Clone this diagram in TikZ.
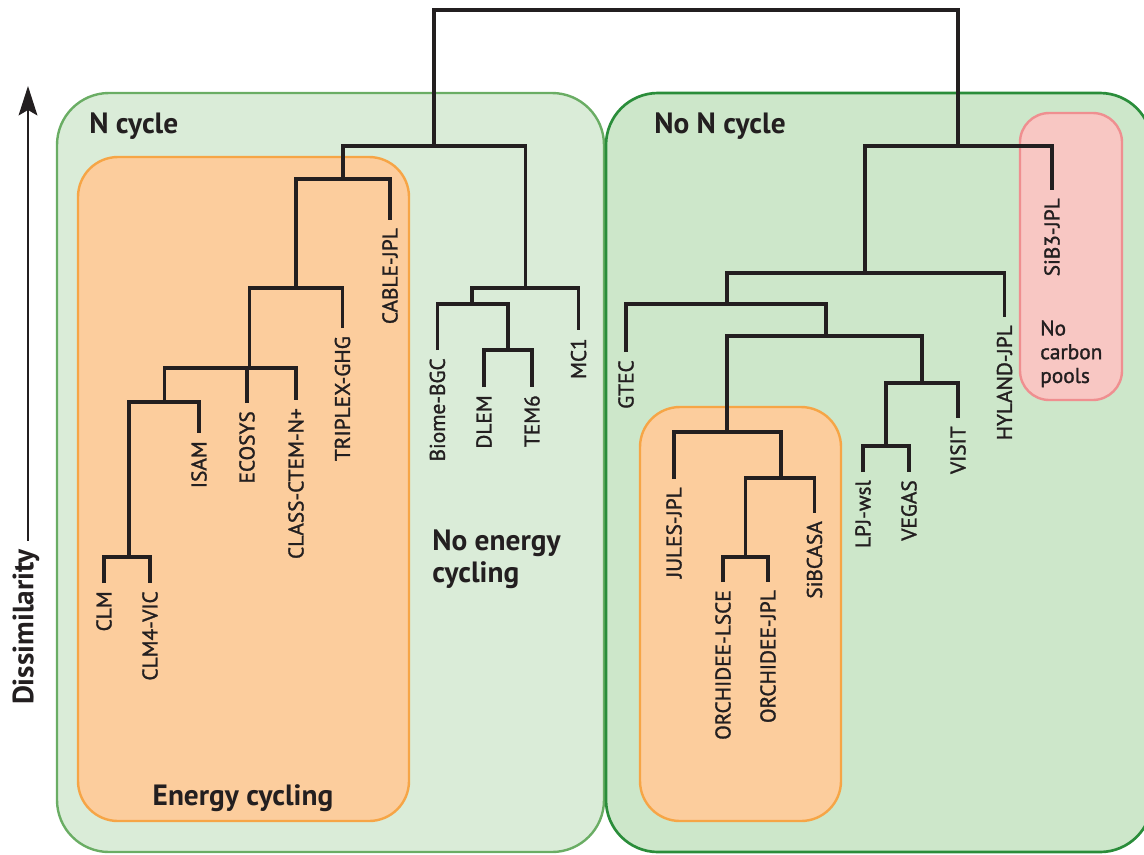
\documentclass[tikz,border=0pt]{standalone}
\usepackage{fontspec}
\setmainfont{PT Sans}
\newfontfamily\leaffont{PT Sans}[FakeBold=1.4]
\usetikzlibrary{arrows.meta}
\definecolor{ink}{HTML}{231F20}
\definecolor{ncfill}{HTML}{DAECD8}
\definecolor{ncline}{HTML}{6AAD64}
\definecolor{nncfill}{HTML}{CDE7CA}
\definecolor{nncline}{HTML}{2A8D3A}
\definecolor{ecfill}{HTML}{FCCD9D}
\definecolor{ecline}{HTML}{F6A546}
\definecolor{pkfill}{HTML}{F8C7C3}
\definecolor{pkline}{HTML}{EF8F90}
\begin{document}
\begin{tikzpicture}[x=0.75pt,y=-0.75pt,
  branch/.style={draw=ink, line width=2.7pt, line join=miter},
  leaf/.style={rotate=90, anchor=east, inner sep=0pt, text=ink, font=\leaffont\fontsize{16}{18}\selectfont},
  grp/.style={inner sep=0pt, text=ink, font=\bfseries\fontsize{22}{24}\selectfont},
  ncbox/.style={fill=ncfill, draw=ncline, line width=1.8pt, rounded corners=39pt},
  nncbox/.style={fill=nncfill, draw=nncline, line width=2pt, rounded corners=39pt},
  ecbox/.style={fill=ecfill, draw=ecline, line width=1.8pt, rounded corners=30pt},
  pkbox/.style={fill=pkfill, draw=pkline, line width=1.8pt, rounded corners=22pt},
]
\useasboundingbox (0,0) rectangle (1144,854);
\clip (0,0) rectangle (1144,854);
% group boxes
\path[ncbox] (57,93) rectangle (604,852);
\path[nncbox] (606,93) rectangle (1152,852);
\path[ecbox] (78,157) rectangle (409,821);
\path[ecbox] (640,407) rectangle (841,821);
\path[pkbox] (1020,113) rectangle (1122,400);
% group labels
\node[grp, anchor=base west] (lab-nc) at (89,133) {N cycle};
\node[grp, anchor=base west] (lab-nnc) at (654,133) {No N cycle};
\node[grp, anchor=base] (lab-ec) at (243,805) {Energy cycling};
\node[grp, anchor=north west, align=left] (lab-nec) at (432,530) {No energy\\cycling};
\node[anchor=north west, align=left, inner sep=0pt, text=ink, font=\leaffont\fontsize{16}{17.8}\selectfont] (lab-pk) at (1040,320) {No\\carbon\\pools};
% axis
\node[grp, rotate=90] (lab-dis) at (26,627) {Dissimilarity};
\coordinate (arrtip) at (28,86);
\draw[ink, line width=1.9pt, -{Stealth[length=22pt,width=14pt,inset=4pt]}] (lab-dis.east) ++(2,-8) -- (arrtip);
% internal nodes
\coordinate (root) at (696,10);
\coordinate (nc) at (434,146);
\coordinate (ec) at (343,179);
\coordinate (ec2) at (296,288);
\coordinate (ec3) at (249.5,368);
\coordinate (ec4) at (164.6,402);
\coordinate (clm) at (129,557);
\coordinate (nec) at (525.4,288);
\coordinate (bd) at (472,304);
\coordinate (dt) at (508,350);
\coordinate (nnc) at (958,146);
\coordinate (nn2) at (865,273);
\coordinate (nn3) at (727,304);
\coordinate (nn4) at (826,336);
\coordinate (nn5) at (727,432);
\coordinate (nn6) at (922,383);
\coordinate (lv) at (886,446);
\coordinate (nn7) at (781,478);
\coordinate (orc) at (745.5,557);
% leaf tips
\coordinate (t-cable) at (390,220);
\coordinate (t-triplex) at (342.5,328);
\coordinate (t-ecosys) at (247,403);
\coordinate (t-class) at (296,400);
\coordinate (t-isam) at (199,433);
\coordinate (t-clm) at (104,583);
\coordinate (t-clm4) at (150,583);
\coordinate (t-mc1) at (578.6,330);
\coordinate (t-biome) at (437.4,350);
\coordinate (t-dlem) at (484,387);
\coordinate (t-tem6) at (532,387);
\coordinate (t-sib3) at (1052,190);
\coordinate (t-hyland) at (1004.5,317);
\coordinate (t-gtec) at (626,352);
\coordinate (t-visit) at (958,418);
\coordinate (t-lpj) at (863,472);
\coordinate (t-vegas) at (909,472);
\coordinate (t-jules) at (674,479);
\coordinate (t-sibcasa) at (814.5,513);
\coordinate (t-olsce) at (723,582);
\coordinate (t-ojpl) at (768,582);
% leaf labels
\path (t-cable) ++(0,8) node[leaf] (l-cable) {CABLE-JPL};
\path (t-triplex) ++(0,8) node[leaf] (l-triplex) {TRIPLEX-GHG};
\path (t-ecosys) ++(0,8) node[leaf] (l-ecosys) {ECOSYS};
\path (t-class) ++(0,8) node[leaf] (l-class) {CLASS-CTEM-N+};
\path (t-isam) ++(0,8) node[leaf] (l-isam) {ISAM};
\path (t-clm) ++(0,8) node[leaf] (l-clm) {CLM};
\path (t-clm4) ++(0,8) node[leaf] (l-clm4) {CLM4-VIC};
\path (t-mc1) ++(0,8) node[leaf] (l-mc1) {MC1};
\path (t-biome) ++(0,8) node[leaf] (l-biome) {Biome-BGC};
\path (t-dlem) ++(0,8) node[leaf] (l-dlem) {DLEM};
\path (t-tem6) ++(0,8) node[leaf] (l-tem6) {TEM6};
\path (t-sib3) ++(0,8) node[leaf] (l-sib3) {SiB3-JPL};
\path (t-hyland) ++(0,8) node[leaf] (l-hyland) {HYLAND-JPL};
\path (t-gtec) ++(0,8) node[leaf] (l-gtec) {GTEC};
\path (t-visit) ++(0,8) node[leaf] (l-visit) {VISIT};
\path (t-lpj) ++(0,8) node[leaf] (l-lpj) {LPJ-wsl};
\path (t-vegas) ++(0,8) node[leaf] (l-vegas) {VEGAS};
\path (t-jules) ++(0,8) node[leaf] (l-jules) {JULES-JPL};
\path (t-sibcasa) ++(0,8) node[leaf] (l-sibcasa) {SiBCASA};
\path (t-olsce) ++(0,8) node[leaf] (l-olsce) {ORCHIDEE-LSCE};
\path (t-ojpl) ++(0,8) node[leaf] (l-ojpl) {ORCHIDEE-JPL};
% branches
\draw[branch] (nc) |- (root) -| (nnc);
\draw[branch] (ec) |- (nc) -| (nec);
\draw[branch] (ec2) |- (ec) -| (t-cable);
\draw[branch] (ec3) |- (ec2) -| (t-triplex);
\draw[branch] (ec4) |- (ec3) -| (t-class);
\draw[branch] (t-ecosys) -- (t-ecosys |- ec3);
\draw[branch] (clm) |- (ec4) -| (t-isam);
\draw[branch] (t-clm) |- (clm) -| (t-clm4);
\draw[branch] (bd) |- (nec) -| (t-mc1);
\draw[branch] (t-biome) |- (bd) -| (dt);
\draw[branch] (t-dlem) |- (dt) -| (t-tem6);
\draw[branch] (nn2) |- (nnc) -| (t-sib3);
\draw[branch] (nn3) |- (nn2) -| (t-hyland);
\draw[branch] (t-gtec) |- (nn3) -| (nn4);
\draw[branch] (nn5) |- (nn4) -| (nn6);
\draw[branch] (lv) |- (nn6) -| (t-visit);
\draw[branch] (t-lpj) |- (lv) -| (t-vegas);
\draw[branch] (t-jules) |- (nn5) -| (nn7);
\draw[branch] (orc) |- (nn7) -| (t-sibcasa);
\draw[branch] (t-olsce) |- (orc) -| (t-ojpl);
\end{tikzpicture}
\end{document}
